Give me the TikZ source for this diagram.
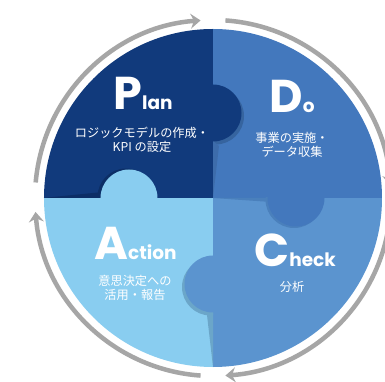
\documentclass[tikz,border=0pt]{standalone}
\usepackage{fontspec}
\newfontfamily\pop{Poppins}
\newfontfamily\jp{Noto Sans CJK JP}
\usetikzlibrary{arrows.meta}
\definecolor{planc}{HTML}{113A7C}
\definecolor{doc}{HTML}{4378BD}
\definecolor{checkc}{HTML}{5B94CF}
\definecolor{actc}{HTML}{89CDF0}
\definecolor{ringgray}{HTML}{A6A6A6}
\definecolor{planshadow}{HTML}{0C2E66}
\definecolor{doshadow}{HTML}{36649F}
\definecolor{dowedge}{HTML}{3D6CAB}
\definecolor{checkshadow}{HTML}{4A80BC}
\definecolor{actshadow}{HTML}{6BA6C9}
\newcommand\bigLetter[1]{{\fontsize{46}{46}\selectfont #1}}
\newcommand\smallLetters[1]{{\fontsize{18.5}{18.5}\selectfont #1}}
\tikzset{
  ring/.style={draw=ringgray, line width=4.5pt, -{Stealth[length=10pt,width=15pt,inset=3.5pt]}},
  title/.style={text=white, inner sep=0pt, anchor=base, font=\pop\bfseries},
  jptext/.style={text=white, inner sep=0pt, align=center, font=\jp\fontsize{12.2}{14}\selectfont}
}
\begin{document}
\begin{tikzpicture}[x=1pt,y=1pt]
\useasboundingbox (-213,-184) rectangle (172,198);
\fill[white] (-213,-184) rectangle (172,198);

\begin{scope}
  \clip (0,0) circle (169);
  \fill[planc] (-170,0) rectangle (0,170);
  \fill[doc] (0,0) rectangle (170,170);
  \fill[checkc] (0,0) rectangle (170,-170);
  \fill[actc] (-170,0) rectangle (0,-170);
  % Plan knob into Do
  \begin{scope}
    \clip (0,0) rectangle (170,170);
    \fill[doshadow] (2.5,82) circle (28.5);
    \fill[dowedge] (0,57) -- (6,52) -- (0,0) -- cycle;
  \end{scope}
  \fill[planc] (0,85) circle (28.5);
  % Action knob into Plan
  \begin{scope}
    \clip (-170,0) rectangle (0,170);
    \fill[planshadow] (-87,1) circle (28.5);
    \fill[planshadow] (-170,0) -- (-110,0) -- (-110,6) -- cycle;
  \end{scope}
  \fill[actc] (-84,0) circle (28.5);
  % Do knob into Check
  \begin{scope}
    \clip (0,0) rectangle (170,-170);
    \fill[checkshadow] (81,-1.5) circle (28.5);
    \fill[checkshadow] (0,0) -- (58,0) -- (58,-4) -- cycle;
  \end{scope}
  \fill[doc] (83,0) circle (28.5);
  % Check knob into Action
  \begin{scope}
    \clip (-170,0) rectangle (0,-170);
    \fill[actshadow] (-2.5,-89) circle (28.5);
    \fill[actshadow] (0,-112) -- (-6,-117) -- (0,-169) -- cycle;
  \end{scope}
  \fill[checkc] (0,-86) circle (28.5);
\end{scope}

% cycle arrows
\draw[ring] (175:178) arc[start angle=175, end angle=94, radius=178];
\draw[ring] (86:178) arc[start angle=86, end angle=4, radius=178];
\draw[ring] (-5:178) arc[start angle=-5, end angle=-86, radius=178];
\draw[ring] (-94:178) arc[start angle=-94, end angle=-175.5, radius=178];

% titles
\node[title] (plan) at (-70,88) {\bigLetter{P}\smallLetters{lan}};
\node[title] (do) at (79,85) {\bigLetter{D}\smallLetters{o}};
\node[title] (action) at (-77.5,-62) {\bigLetter{A}\smallLetters{ction}};
\node[title] (check) at (82,-69) {\bigLetter{C}\smallLetters{heck}};

% descriptions
\node[jptext] (plantxt) at (-71,58) {ロジックモデルの作成・\\KPI の設定};
\node[jptext] (dotxt) at (79,53) {事業の実施・\\データ収集};
\node[jptext] (acttxt) at (-78,-89.5) {意思決定への\\活用・報告};
\node[jptext] (checktxt) at (79,-89) {分析};
\end{tikzpicture}
\end{document}
